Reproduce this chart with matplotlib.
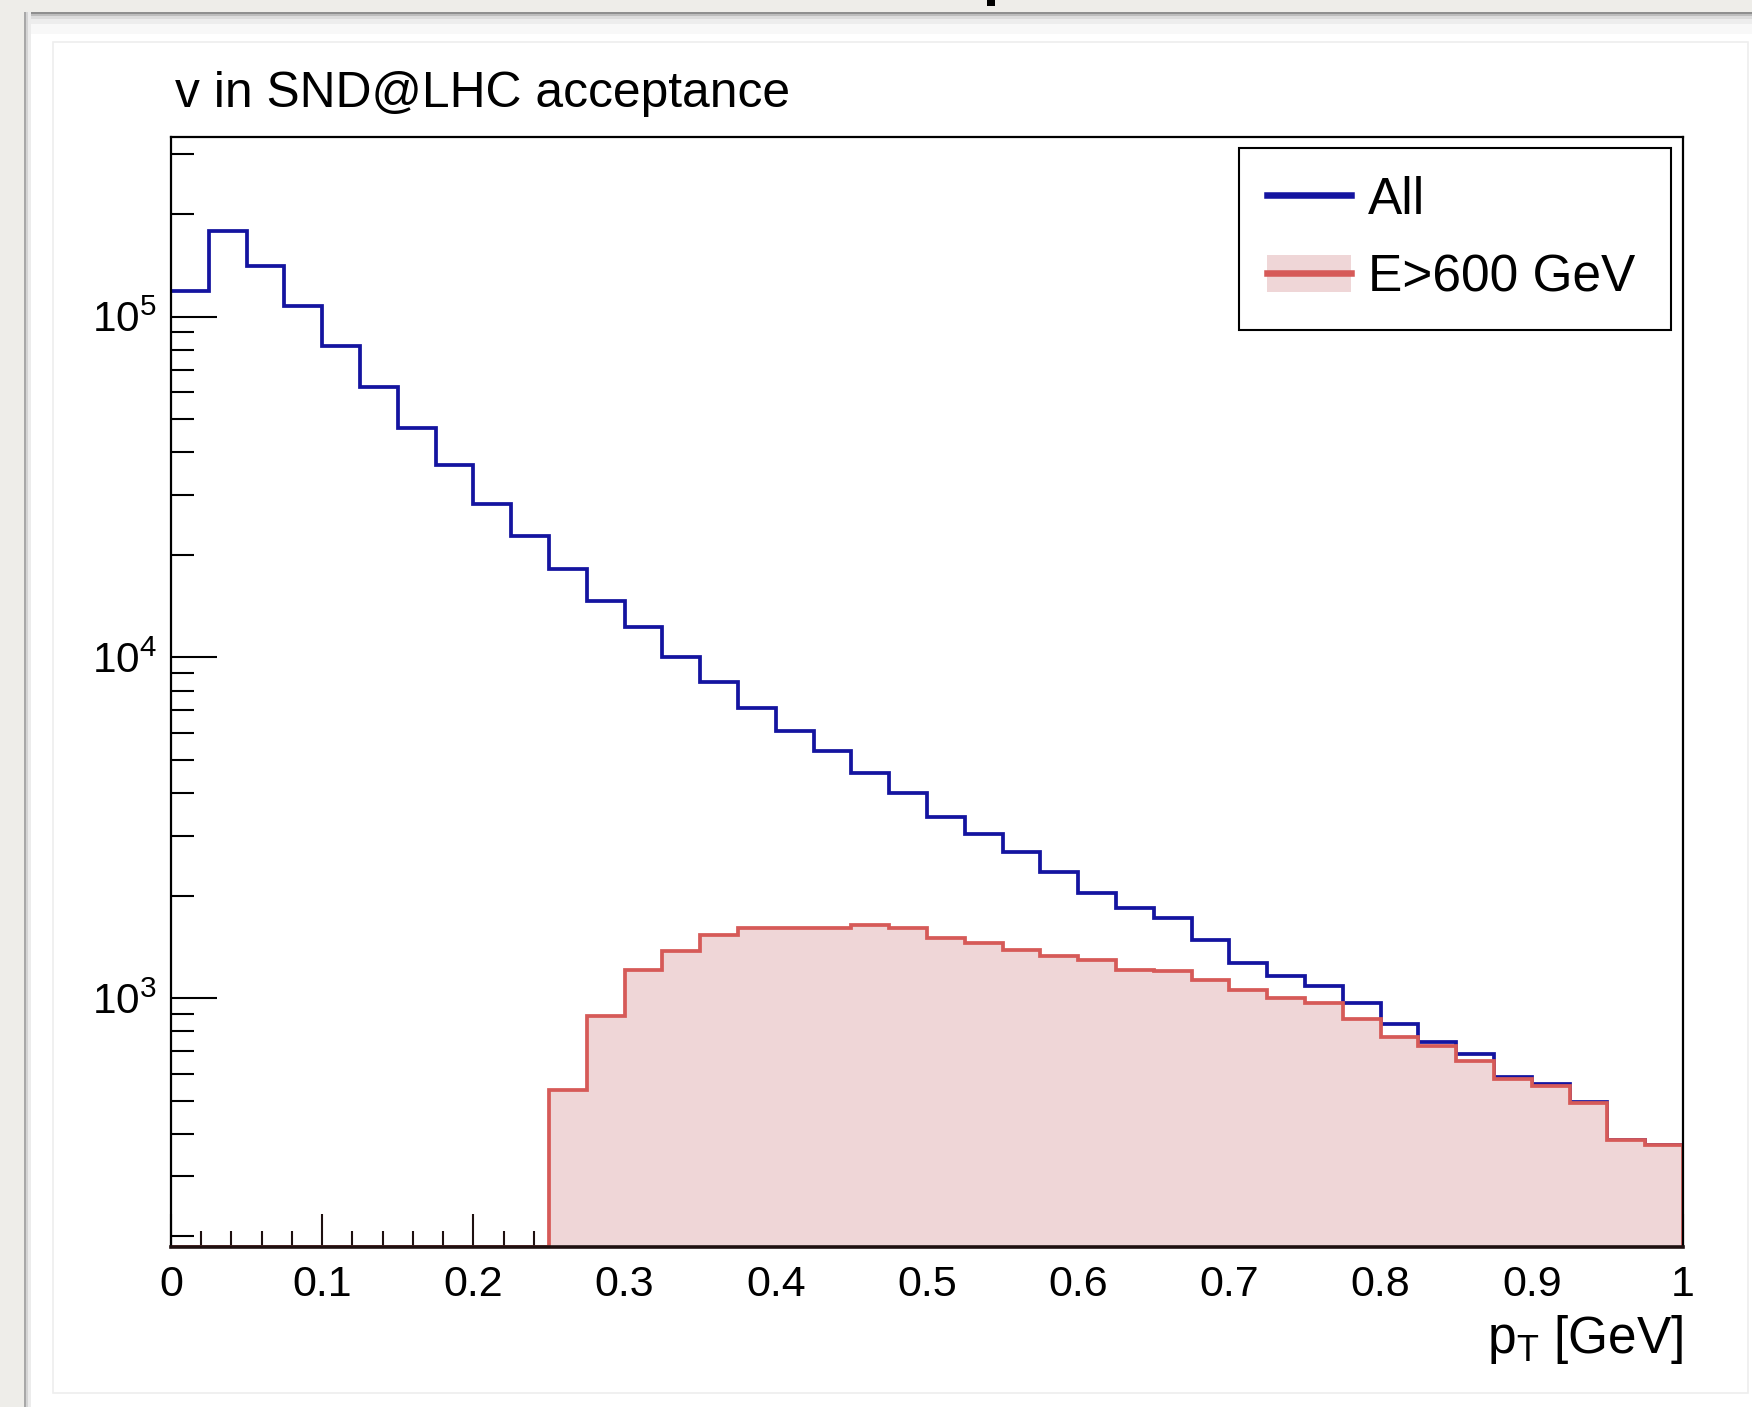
import numpy as np
import matplotlib
matplotlib.use("Agg")
import matplotlib.pyplot as plt
from matplotlib.patches import Rectangle, Patch
from matplotlib.lines import Line2D
from matplotlib.ticker import LogLocator, FixedLocator, MultipleLocator, NullFormatter, FixedFormatter

plt.rcParams['font.family'] = ['Liberation Sans', 'DejaVu Sans']
plt.rcParams['mathtext.fontset'] = 'custom'
plt.rcParams['mathtext.rm'] = 'Liberation Sans'
plt.rcParams['mathtext.it'] = 'Liberation Sans:italic'

# ---------------- data ----------------
bin_edges = np.linspace(0.0, 1.0, 41)  # 40 bins of 0.025 GeV
all_counts = [1.19e5, 1.79e5, 1.41e5, 1.075e5, 8.2e4, 6.24e4, 4.73e4, 3.66e4,
              2.83e4, 2.27e4, 1.82e4, 1.46e4, 1.23e4, 1.00e4, 8470, 7130,
              6100, 5330, 4570, 4000, 3410, 3030, 2680, 2340, 2040, 1845,
              1724, 1483, 1267, 1163, 1087, 967, 840, 745, 686, 589,
              560, 497, 384, 371]
high_e_counts = [0, 0, 0, 0, 0, 0, 0, 0, 0, 0,
                 538, 887, 1208, 1380, 1534, 1608, 1608, 1608, 1642, 1608,
                 1501, 1456, 1385, 1334, 1291, 1207, 1205, 1130, 1055, 1000,
                 967, 869, 771, 726, 656, 581, 554, 492, 384, 371]
series_labels = ["All", "E>600 GeV"]
title_text = "v in SND@LHC acceptance"
xlabel_text = r"$\mathregular{p_{T}}$ [GeV]"
x_tick_values = [0, 0.1, 0.2, 0.3, 0.4, 0.5, 0.6, 0.7, 0.8, 0.9, 1.0]
x_tick_labels = ["0", "0.1", "0.2", "0.3", "0.4", "0.5", "0.6", "0.7", "0.8", "0.9", "1"]
y_decades = [3, 4, 5]

# ---------------- figure ----------------
W, H = 1752, 1407
DPI = 100
fig = plt.figure(figsize=(W / DPI, H / DPI), dpi=DPI)
fig.patch.set_facecolor('#eeede9')


def fx(px):
    return px / W


def fy(py):
    return 1 - py / H


def frect(x0, y0, x1, y1, **kw):
    r = Rectangle((fx(x0), fy(y1)), fx(x1) - fx(x0), fy(y0) - fy(y1),
                  transform=fig.transFigure, **kw)
    fig.patches.append(r)
    return r


# white panel with soft shadow
frect(24, 12, W, H, facecolor='white', edgecolor='none', zorder=0)
for (a, b, c) in [(12, 14, '#8f8f8f'), (14, 16, '#bdbdbd'), (16, 19, '#dcdcdc'),
                  (19, 24, '#ededed'), (24, 34, '#f8f8f8')]:
    frect(24, a, W, b, facecolor=c, edgecolor='none', zorder=0.1)
for (a, b, c) in [(24, 26, '#a8a8a8'), (26, 28, '#d4d4d4'), (28, 31, '#ececec')]:
    frect(a, 12, b, H, facecolor=c, edgecolor='none', zorder=0.1)
# inner pad border
frect(53, 42, 1748, 1393, facecolor='none', edgecolor='#eeeeee', lw=1.2, zorder=0.2)
# fragment of text above the screenshot crop
frect(987, 0, 995, 6, facecolor='black', edgecolor='none', zorder=0.3)

# axes
ax_l, ax_r, ax_t, ax_b = 171, 1683, 136.5, 1246.7
ax = fig.add_axes([fx(ax_l), fy(ax_b), fx(ax_r) - fx(ax_l), fy(ax_t) - fy(ax_b)])
ax.set_zorder(5)
ax.set_facecolor('white')

ymin, ymax = 186.6, 3.38e5
ax.set_yscale('log')
ax.set_xlim(0, 1)
ax.set_ylim(ymin, ymax)

blue = '#1414a0'
red_line = '#d65a58'
red_fill = '#efd6d7'

all_arr = np.asarray(all_counts, dtype=float)
high_arr = np.asarray(high_e_counts, dtype=float)
high_draw = np.where(high_arr > 0, high_arr, ymin)

ax.stairs(all_arr, bin_edges, baseline=None, color=blue, lw=2.7, zorder=2)
ax.stairs(high_draw, bin_edges, baseline=ymin, fill=True, facecolor=red_fill,
          edgecolor='none', zorder=3)
ax.stairs(high_draw, bin_edges, baseline=ymin, color=red_line, lw=2.7, zorder=4)

# spines
for s in ['top', 'right', 'left']:
    ax.spines[s].set_linewidth(1.6)
ax.spines['bottom'].set_linewidth(2.6)
ax.spines['bottom'].set_color('#1e1010')
for s in ax.spines.values():
    s.set_zorder(5)

# ticks
ax.xaxis.set_major_locator(FixedLocator(x_tick_values))
ax.xaxis.set_major_formatter(FixedFormatter(x_tick_labels))
ax.xaxis.set_minor_locator(MultipleLocator(0.02))
ax.yaxis.set_major_locator(FixedLocator([10.0 ** e for e in y_decades]))
ax.yaxis.set_major_formatter(FixedFormatter(
    [r"$\mathregular{10^{%d}}$" % e for e in y_decades]))
ax.yaxis.set_minor_locator(LogLocator(base=10, subs=np.arange(2, 10), numticks=20))
ax.yaxis.set_minor_formatter(NullFormatter())

ax.tick_params(axis='x', which='both', direction='in', top=False, bottom=True,
               width=1.5, colors='#1e1010', labelcolor='black')
ax.tick_params(axis='x', which='major', length=23.5, pad=13, labelsize=31)
ax.tick_params(axis='x', which='minor', length=11.5)
ax.tick_params(axis='y', which='both', direction='in', left=True, right=False,
               width=1.5)
ax.tick_params(axis='y', which='major', length=33, pad=10, labelsize=30.5)
ax.tick_params(axis='y', which='minor', length=16.5)
for lbl in ax.yaxis.get_majorticklabels():
    lbl.set_va('center_baseline')

# labels
ax.set_xlabel(xlabel_text, fontsize=37, ha='right', va='baseline')
ax.xaxis.set_label_coords(1.0, -(1353 - ax_b) / (ax_b - ax_t))
fig.text(fx(175), fy(106.7), title_text, fontsize=35.8, ha='left', va='baseline')

# legend
h_all = Line2D([], [], color=blue, lw=4.7)
h_fill = Patch(facecolor=red_fill, edgecolor='none')
h_line = Line2D([], [], color=red_line, lw=4.7)
lx0, lx1, ly0, ly1 = 1239.4, 1671, 148.3, 329
leg = ax.legend([h_all, (h_fill, h_line)], series_labels,
                loc='upper left',
                bbox_to_anchor=(fx(lx0), fy(ly1), fx(lx1) - fx(lx0), fy(ly0) - fy(ly1)),
                bbox_transform=fig.transFigure, mode='expand', borderaxespad=0,
                fontsize=37, frameon=True, fancybox=False, framealpha=1,
                edgecolor='black', borderpad=0.53, labelspacing=0.56,
                handlelength=1.65, handleheight=0.74, handletextpad=0.33)
leg.get_frame().set_linewidth(1.5)
leg.set_zorder(10)

fig.savefig('out.png', dpi=DPI, facecolor=fig.get_facecolor())
